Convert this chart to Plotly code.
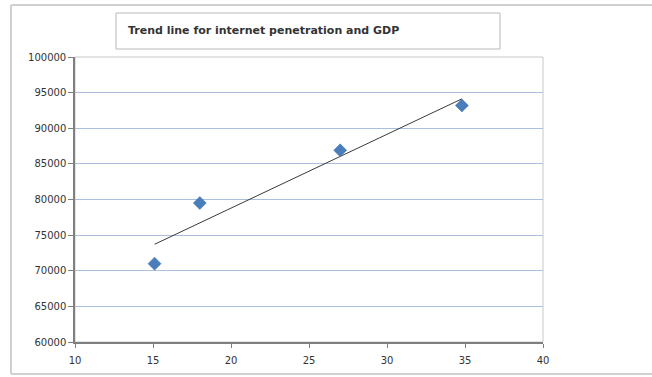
import numpy as np
import plotly.graph_objects as go

# Internet penetration (%) vs GDP
penetration = [15.1, 18.0, 27.0, 34.8]
gdp = [71000, 79500, 86900, 93200]

x_ticks = [10, 15, 20, 25, 30, 35, 40]
y_ticks = [60000, 65000, 70000, 75000, 80000, 85000, 90000, 95000, 100000]

# Least-squares linear trend over the observed range
slope, intercept = np.polyfit(penetration, gdp, 1)
trend_x = [min(penetration), max(penetration)]
trend_y = [slope * v + intercept for v in trend_x]

W, H = 652, 377
L, R, T, B = 75, 543, 57, 342
pw, ph = R - L, B - T


def px(x):
    return (x - L) / pw


def py(y):
    return (B - y) / ph


fig = go.Figure()

fig.add_trace(go.Scatter(
    x=trend_x, y=trend_y, mode="lines",
    line=dict(color="#3a3a3a", width=1),
    hoverinfo="skip", showlegend=False,
))
fig.add_trace(go.Scatter(
    x=penetration, y=gdp, mode="markers",
    marker=dict(symbol="diamond", size=10, color="#4a7ebb",
                line=dict(color="#3d6ca8", width=0.5)),
    showlegend=False,
))

tick_font = dict(family="DejaVu Sans", size=10, color="#333333")
frame = dict(color="#d0d0d0", width=2)

fig.update_layout(
    width=W, height=H,
    margin=dict(l=L, r=W - R, t=T, b=H - B),
    paper_bgcolor="white",
    plot_bgcolor="white",
    xaxis=dict(
        range=[10, 40], tickvals=x_ticks, ticktext=[str(v) for v in x_ticks],
        showgrid=False, zeroline=False,
        showline=True, linecolor="#7f7f7f", linewidth=1.5,
        ticks="outside", ticklen=4, tickcolor="#7f7f7f",
        tickfont=tick_font, ticklabelstandoff=4,
    ),
    yaxis=dict(
        range=[60000, 100000], tickvals=y_ticks, ticktext=[str(v) for v in y_ticks],
        showgrid=True, gridcolor="#a9bfdb", gridwidth=1, zeroline=False,
        showline=True, linecolor="#7f7f7f", linewidth=1.5,
        ticks="outside", ticklen=5, tickcolor="#7f7f7f",
        tickfont=tick_font,
    ),
    shapes=[
        # outer chart frame: left, top and bottom edges (right edge off the page)
        dict(type="line", xref="paper", yref="paper",
             x0=px(11), x1=px(11), y0=py(374), y1=py(5), line=frame, layer="below"),
        dict(type="line", xref="paper", yref="paper",
             x0=px(11), x1=px(W), y0=py(5), y1=py(5), line=frame, layer="below"),
        dict(type="line", xref="paper", yref="paper",
             x0=px(11), x1=px(W), y0=py(374), y1=py(374), line=frame, layer="below"),
        # plot-area frame (top/right edges)
        dict(type="rect", xref="paper", yref="paper",
             x0=0, x1=1, y0=0, y1=1,
             line=dict(color="#c8c8c8", width=1), layer="below"),
        # title box
        dict(type="rect", xref="paper", yref="paper",
             x0=px(116), x1=px(500), y0=py(49), y1=py(13),
             line=dict(color="#b8b8b8", width=1), fillcolor="white"),
    ],
    annotations=[
        dict(text="<b>Trend line for internet penetration and GDP</b>",
             xref="paper", yref="paper", x=px(126), y=py(31),
             xanchor="left", yanchor="middle", showarrow=False,
             font=dict(family="DejaVu Sans", size=11, color="#333333")),
    ],
)

page_css = (
    "var s=document.createElement('style');"
    "s.textContent='html,body{margin:0;padding:0;overflow:hidden;}';"
    "document.head.appendChild(s);"
)
fig.write_html("out.html", config={"displayModeBar": False}, post_script=page_css)
